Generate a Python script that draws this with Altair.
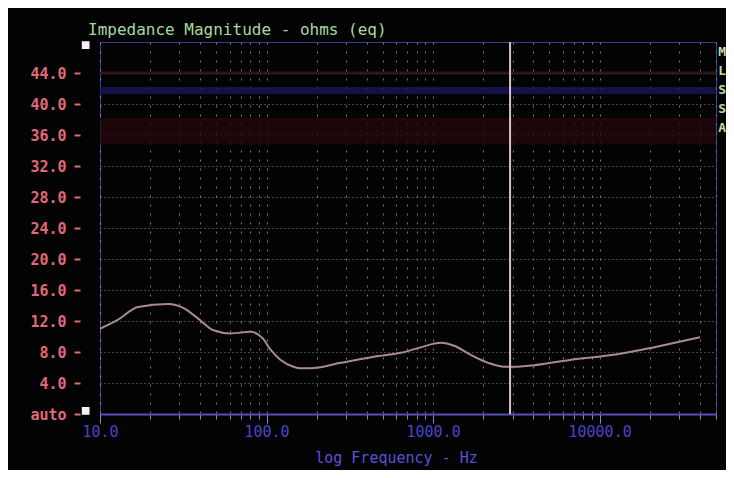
import altair as alt
import pandas as pd

# ---- data ----
freq_hz = [10, 12.7, 16.9, 25.7, 31.6, 38.4, 48, 60.7, 80, 94.6, 105.7, 121, 145,
           160, 184, 279, 441, 641, 812, 1117, 1339, 1693, 2143, 2677, 3034, 4058,
           6776, 11800, 17900, 28300, 40000]
impedance_ohms = [11.0, 12.1, 13.8, 14.2, 13.7, 12.4, 10.8, 10.4, 10.6, 9.8, 8.3, 7.0, 6.1,
                  5.9, 5.9, 6.6, 7.4, 7.9, 8.5, 9.2, 8.8, 7.6, 6.6, 6.1, 6.1, 6.3,
                  7.0, 7.6, 8.3, 9.2, 9.9]
cursor_hz = [2900]
y_tick_values = [0, 4, 8, 12, 16, 20, 24, 28, 32, 36, 40, 44]
x_grid_values = ([m * 10 for m in range(1, 10)] + [m * 100 for m in range(1, 10)] +
                 [m * 1000 for m in range(1, 10)] + [m * 10000 for m in range(1, 6)])
band_lo = [41.3, 43.8, 34.8]
band_hi = [42.2, 44.2, 38.2]
band_color = ["#18185a", "#3a1a1a", "#24070d"]
side_letters = ["M", "L", "S", "S", "A"]
side_letter_ohms = [46.7, 44.3, 41.8, 39.4, 36.9]
side_letter_hz = [54500] * 5
marker_ohms = [47.6, 0.4]
marker_hz = [8.2, 8.2]

MONO = "DejaVu Sans Mono"

curve = pd.DataFrame({"f": freq_hz, "z": impedance_ohms})
cursor = pd.DataFrame({"f": cursor_hz})
bands = pd.DataFrame({"lo": band_lo, "hi": band_hi, "c": band_color})
letters = pd.DataFrame({"t": side_letters, "z": side_letter_ohms, "f": side_letter_hz})
markers = pd.DataFrame({"z": marker_ohms, "f": marker_hz})

xscale = alt.Scale(type="log", domain=[10, 50000], nice=False)
yscale = alt.Scale(domain=[0, 48], nice=False)

decade_test = "datum.value==10||datum.value==100||datum.value==1000||datum.value==10000"

x_axis = alt.Axis(
    values=x_grid_values, format=".1f",
    labelExpr="(" + decade_test + ") ? datum.label : ''",
    labelFont=MONO, labelFontSize=15, labelColor="#4a44c8", labelPadding=1,
    labelOverlap=False, labelFlush=False,
    tickColor="#8a88d0", tickWidth=1,
    tickSize={"condition": {"test": decade_test, "value": 9}, "value": 5},
    domainColor="#5550b8", domainWidth=2,
    grid=True, gridDash=[2, 7],
    gridColor={"condition": {"test": "datum.value==10", "value": "#9a8ad0"}, "value": "#7a7a7a"},
    title="log Frequency - Hz", titleFont=MONO, titleFontSize=15, titleFontWeight="normal",
    titleColor="#5a52d8", titleX=296, titleY=43, titleBaseline="middle", titleAlign="center",
)

y_axis = alt.Axis(
    values=y_tick_values,
    labelExpr="datum.value==0 ? 'auto' : format(datum.value, '.1f')",
    labelFont=MONO, labelFontSize=15, labelFontWeight="bold", labelColor="#e06878",
    labelOverlap=False, labelFlush=False,
    labelPadding=8, offset=20, tickSize=6, tickWidth=2, tickColor="#e06878",
    domain=False, grid=True, gridDash=[1, 3], gridColor="#858585",
    title=None,
)


def X(field):
    return alt.X(field, scale=xscale, axis=x_axis)


def Y(field):
    return alt.Y(field, scale=yscale, axis=y_axis)


grid_layer = alt.Chart(curve).mark_line(opacity=0).encode(x=X("f:Q"), y=Y("z:Q"))

band_layer = alt.Chart(bands).mark_rect(opacity=0.8).encode(
    y=Y("lo:Q"),
    y2="hi:Q",
    color=alt.Color("c:N", scale=None),
)

curve_layer = alt.Chart(curve).mark_line(
    color="#a88a96", strokeWidth=2, interpolate="monotone"
).encode(x=X("f:Q"), y=Y("z:Q"))

cursor_layer = alt.Chart(cursor).mark_rule(color="#d8c2ca", strokeWidth=2).encode(x=X("f:Q"))

letter_layer = alt.Chart(letters).mark_text(
    font=MONO, fontSize=13, fontWeight="bold", color="#b8dca8", baseline="middle",
    align="center", clip=False
).encode(x=X("f:Q"), y=Y("z:Q"), text="t:N")

marker_layer = alt.Chart(markers).mark_square(
    color="#f4f0f4", size=60, opacity=1, clip=False
).encode(x=X("f:Q"), y=Y("z:Q"))

chart = alt.layer(
    grid_layer, band_layer, curve_layer, cursor_layer, letter_layer, marker_layer
).properties(
    width=616, height=372,
    padding={"left": 92, "top": 34, "right": 10, "bottom": 56},
    autosize=alt.AutoSizeParams(type="none"),
    background="#030303",
    title=alt.TitleParams(
        "Impedance Magnitude - ohms (eq)", anchor="start", frame="group", dx=-12, dy=16,
        font=MONO, fontSize=16, fontWeight="normal", color="#a8d8a0",
        baseline="bottom", offset=3,
    ),
).configure_view(stroke="#3c3c90", strokeWidth=1)

chart.save("out.html", embed_options={"renderer": "svg", "actions": False})
